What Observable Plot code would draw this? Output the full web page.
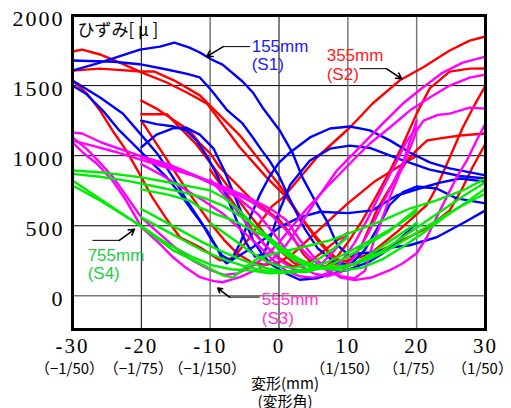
<!DOCTYPE html>
<html><head><meta charset="utf-8">
<script src="https://cdn.jsdelivr.net/npm/d3@7"></script>
<script src="https://cdn.jsdelivr.net/npm/@observablehq/plot@0.6"></script>
<style>body{margin:0;background:#fff}</style>
</head><body><div id="chart"></div>
<script>
// ---- tick values / labels ----
const xTicks = [-30,-20,-10,0,10,20,30];
const xSubLabels = ["（−1/50）","（−1/75）","（−1/150）","","（1/150）","（1/75）","（1/50）"];
const yTicks = [0,500,1000,1500,2000];
const xTitle = "変形(mm)\n(変形角)";

// ---- S1 (155mm) blue ----
const blue1 = [[-30,1607],[-26,1664],[-20.2,1757],[-17.3,1778],[-15.2,1807],[-13,1771],[-11.5,1736],[-9.8,1686],[-8.2,1650],[-5.3,1529],[-3.8,1451],[-2.4,1344],[0.1,1180],[2,1016],[3.4,845],[5.2,681],[6.9,539],[8.5,361],[10.3,283],[11.7,304],[14.2,311],[16.5,347],[19,361],[22.9,418],[26.7,518],[30,610]];
const blue2 = [[-30,1679],[-24,1670],[-19.9,1650],[-16.3,1615],[-13.5,1585],[-11.5,1558],[-9.8,1465],[-7.5,1323],[-5.3,1230],[-3.8,1130],[-2.5,1038],[-1.4,966],[0.1,845],[2,645],[3.7,482],[5.6,340],[8.1,240],[10.3,218],[12.5,330],[14.5,500],[16.1,650],[18,740],[20,780],[22.9,766],[25.8,695],[30,660]];
const blue3 = [[-30,1536],[-26,1415],[-22.7,1301],[-20.2,1159],[-17.7,1016],[-15.4,845],[-13.4,681],[-11.5,540],[-9.8,400],[-8.3,290],[-7,250],[-5.6,380],[-4.2,560],[-2.8,720],[-1.4,850],[0,950],[1.6,1023],[4.5,1130],[7.4,1194],[10.3,1208],[13.2,1180],[16.1,1109],[19,1023],[21.9,952],[24.8,909],[30,859]];
const blue4 = [[-20,1250],[-17.8,1225],[-15.5,1210],[-13.5,1180],[-12,1110],[-10.5,1000],[-9,860],[-7.5,700],[-6,520],[-4.8,380],[-3.5,280],[-2.2,300],[-1,450],[0,600],[1.6,790],[4.5,965],[7.4,1050],[10.3,1072],[13.2,1055],[17.5,975],[21.9,900],[26.3,855],[30,837]];
const blue5 = [[-20,1060],[-17.8,1150],[-15.4,1195],[-13.5,1200],[-11.5,1150],[-9.5,1050],[-8,900],[-6.5,720],[-5,540],[-3.8,400],[-2.5,300],[-1,220],[1,160],[3,115],[5.5,125],[7.8,160],[10.3,190],[13,240],[15,300],[17,380],[18.5,450],[20,520]];
const blue6 = [[-30,1500],[-28,1440],[-25.6,1322],[-23.2,1180],[-20.7,1059],[-18.8,966],[-16.3,845],[-14.4,731],[-12.5,600],[-10.5,470],[-9,340],[-8.2,260],[-7.6,232],[-5.7,290],[-3.8,347],[-1.8,418],[0.1,490],[3,560],[6,600],[10,590],[13.6,610],[17.1,716],[20.4,766],[23.4,808],[26.3,837],[30,815]];

// ---- S2 (355mm) red ----
const red1 = [[-30,1743],[-28.6,1757],[-26,1722],[-23.2,1665],[-19.9,1593],[-16.3,1522],[-13.4,1451],[-10.5,1373],[-8.6,1250],[-5.7,1060],[-1.8,845],[1.1,702],[3.5,539],[5.5,400],[7.5,290],[9.5,210],[11.5,230],[14,330],[17,450],[19.5,560],[21.5,650],[22.9,774],[24.8,987],[26.7,1201],[28.5,1370],[30,1500]];
const red2 = [[-30,1607],[-26,1621],[-20,1600],[-18.1,1600],[-15.2,1536],[-11.5,1430],[-8.6,1287],[-5.7,1145],[-2.8,966],[0.1,788],[3,574],[5.2,432],[7,330],[8.5,260],[10,240],[12,360],[14.2,610],[15.6,730],[17.1,845],[18.6,966],[20,1040],[21.5,1108],[23.4,1123],[26.3,1144],[30,1158]];
const red3 = [[-30,1536],[-27.9,1443],[-26,1322],[-24.2,1180],[-22.2,1038],[-20.3,874],[-18.4,702],[-16.5,560],[-14.4,418],[-11.5,347],[-8.6,254],[-6.7,268],[-4.5,400],[-2.5,540],[-1,640],[0.6,702],[5.5,987],[10.3,1201],[13.6,1372],[17.5,1536],[20.9,1629],[24.8,1750],[27.7,1821],[30,1850]];
const red4 = [[-20,1393],[-17.8,1336],[-15.5,1260],[-13,1180],[-11.5,1087],[-10,1016],[-8.6,916],[-6.7,823],[-4.3,702],[-1.8,610],[0.1,539],[2,420],[3.5,300],[5,220],[6.5,200],[8,250],[10,380],[12,530],[14,700],[16,880],[18,1080],[20,1300],[21.9,1480],[24.8,1600],[27.7,1621],[30,1622]];
const red5 = [[-20,1296],[-16.3,1296],[-14.4,1200],[-12,1080],[-10,950],[-8,820],[-6,690],[-4,560],[-2,440],[0,330],[2,240],[4,190],[6,200],[9,240],[12,280],[15,330],[18,400],[21,470],[23,540],[24.8,610],[26.7,774],[28.1,916],[30,1087]];
const red6 = [[-20,1250],[-18,1100],[-16,950],[-14,800],[-12,660],[-10,520],[-8,400],[-6,300],[-4,240],[-2,220],[0,240],[2,300],[4,390],[6,480],[8,570],[10,660],[12,740],[14,820],[16,880],[18,940],[20,1000]];
const red7 = [[-10,900],[-8,760],[-6,620],[-4,480],[-2,360],[0,270],[2,210],[4,230],[6,300],[8,380],[10,450]];

// ---- S3 (555mm) magenta ----
const mag1 = [[-30,1165],[-28.6,1158],[-25.8,1094],[-20,995],[-16,938],[-11.5,845],[-8.6,788],[-5.7,730],[-2.8,660],[-0.9,610],[1.1,539],[3,400],[5,280],[7,190],[9,130],[11,112],[13.6,133],[16.1,183],[18,233],[20,304],[21.5,420],[23.4,610],[25.8,845],[27.3,966],[28.7,1108],[30,1229]];
const mag2 = [[-30,1108],[-27,1070],[-24,1030],[-20,970],[-16,910],[-12,850],[-8,770],[-4,670],[-1,570],[1,470],[3,350],[5,250],[7,180],[9,140],[11,125],[12.5,180],[13.5,350],[14.9,539],[16.1,703],[17.3,845],[18.3,966],[19.3,1087],[20,1180],[21,1250],[23,1290],[24.8,1300],[27.7,1343],[30,1336]];
const mag3 = [[-30,1094],[-28.5,1023],[-26.5,944],[-24.2,823],[-22.2,680],[-20,490],[-17.5,380],[-15.4,275],[-13.5,200],[-11.5,133],[-9.5,105],[-8.2,97],[-5.7,133],[-2.8,197],[-1,260],[1,360],[3,500],[5.5,690],[8.4,894],[11.7,1059],[15.1,1230],[18,1372],[20.9,1486],[23.8,1593],[26.7,1664],[30,1706]];
const mag4 = [[-30,1130],[-28,1050],[-26,950],[-24,840],[-22,700],[-20,560],[-17.5,450],[-15,340],[-12.5,250],[-10,185],[-8,150],[-6,160],[-4,210],[-2,280],[0,380],[2,500],[4,620],[6.9,773],[10.3,944],[13.2,1087],[16.1,1201],[19,1322],[21.9,1415],[24.8,1500],[27.7,1557],[30,1578]];
const mag5 = [[-20,990],[-16,920],[-12,850],[-9,780],[-6,700],[-3,580],[-1,460],[1,330],[3,220],[5,160],[7,140],[9,170],[11,280],[13,450],[15,650],[16.5,800],[18,950],[19,1100],[20,1250]];
const mag6 = [[-20,940],[-17,860],[-14,770],[-11,680],[-8,580],[-5,450],[-3,360],[-1,260],[1,180],[3,140],[5,130],[7,160],[9,240],[11,380],[13,560],[15,760],[17,950],[18.5,1100],[20,1200]];
const mag7 = [[-10,830],[-8,720],[-6,600],[-4,470],[-2,360],[0,260],[2,190],[4,170],[6,220],[8,320],[10,450]];

// ---- S4 (755mm) green ----
const green1 = [[-30,894],[-25.6,880],[-20,845],[-15.9,809],[-10,752],[-8,700],[-6,620],[-4,520],[-2,420],[0,330],[2,260],[4,220],[6,200],[9,200],[12,250],[15,320],[18,420],[21,520],[24,620],[27,720],[30,810]];
const green2 = [[-30,870],[-26,850],[-22,820],[-18,780],[-14,740],[-11,700],[-8,640],[-5,550],[-2,440],[0,360],[3,260],[6,200],[9,180],[12,200],[15,260],[18,350],[21,450],[24,560],[27,660],[30,766]];
const green3 = [[-30,823],[-25,659],[-19.8,488],[-15.4,325],[-11.5,232],[-8.2,147],[-6.7,130],[-5,200],[-3,270],[0,310],[3.4,347],[7.4,396],[11.3,467],[15.1,539],[19,623],[22.9,681],[26.7,752],[30,837]];
const green4 = [[-30,787],[-26,681],[-20.2,503],[-16.3,374],[-12.5,275],[-9.6,218],[-7,190],[-4,180],[-1.4,161],[2,168],[5.5,197],[10.3,218],[13,260],[16,330],[19,420],[22,510],[25,600],[28,680],[30,730]];
const green5 = [[-20,620],[-17,540],[-14,460],[-11,380],[-8,310],[-5,250],[-2,200],[1,170],[4,170],[7,210],[10,280],[13,370],[16,460],[18,540],[20,620]];
const green6 = [[-20,560],[-17,480],[-14,400],[-11,320],[-8,260],[-5,210],[-2,180],[1,170],[4,190],[7,240],[10,310],[13,390],[16,470],[18,530],[20,600]];
const green7 = [[-10,520],[-8,450],[-6,380],[-4,310],[-2,250],[0,210],[2,200],[4,220],[6,270],[8,340],[10,420]];
const green8 = [[-20,760],[-16,720],[-13,680],[-11.5,630],[-9,580],[-6.7,539],[-4,470],[-1.8,418],[1.1,304],[3,240],[5,200],[8,190],[11,230],[14,320],[17,420],[20,520]];

const blueCurves = [blue1,blue2,blue3,blue4,blue5,blue6];
const redCurves = [red1,red2,red3,red4,red5,red6,red7];
const magCurves = [mag1,mag2,mag3,mag4,mag5,mag6,mag7];
const greenCurves = [green1,green2,green3,green4,green5,green6,green7,green8];

// ---- annotations ----
const annoText  = ["155mm","(S1)","355mm","(S2)","755mm","(S4)","555mm","(S3)"];
const annoX     = [-3.97,-3.97,6.93,6.93,-27.8,-27.8,-2.5,-2.5];
const annoY     = [1778,1650,1714,1579,290,161,-24,-159];
const annoColor = ["#1a1aff","#1a1aff","#ff1a1a","#ff1a1a","#22cc44","#22cc44","#ff33cc","#ff33cc"];
// leader: start (x0,y0) -> bend (x1,y1) -> arrow tip (x2,y2)
const leadX0 = [-4.2, 11.7, -27.1, -2.8];
const leadX1 = [-8.1, 15.6, -23.2, -7.2];
const leadY1 = [1778, 1621, 396, -9];
const leadX2 = [-10.5, 17.8, -21, -8.9];
const leadY2 = [1707, 1550, 475, 55];

const toRows = (curves, g) => curves.flatMap((c, i) => c.map(([x, y]) => ({x, y, id: g + i})));
const annos = annoText.map((t, i) => ({t, x: annoX[i], y: annoY[i], c: annoColor[i]}));
const leads = leadX0.map((x0, i) => ({x0, x1: leadX1[i], y1: leadY1[i], x2: leadX2[i], y2: leadY2[i]}));

const plot = Plot.plot({
  width: 511, height: 408,
  marginLeft: 72, marginRight: 26, marginTop: 15, marginBottom: 79,
  x: {domain: [-30, 30], label: null},
  y: {domain: [-240, 2000], label: null},
  style: {background: "white", overflow: "visible"},
  marks: [
    Plot.ruleY([500, 1000, 1500], {stroke: "#000", strokeWidth: 1}),
    Plot.ruleY([0], {stroke: "#777", strokeWidth: 1.5}),
    Plot.ruleX([-20, 0], {stroke: "#000", strokeWidth: 1}),
    Plot.ruleX([-10, 10, 20], {stroke: "#777", strokeWidth: 1.5}),
    Plot.line(toRows(redCurves, "r"), {x: "x", y: "y", z: "id", stroke: "#ff0000", strokeWidth: 2.4}),
    Plot.line(toRows(blueCurves, "b"), {x: "x", y: "y", z: "id", stroke: "#0000ff", strokeWidth: 2.4}),
    Plot.line(toRows(magCurves, "m"), {x: "x", y: "y", z: "id", stroke: "#ff00ff", strokeWidth: 2.4}),
    Plot.line(toRows(greenCurves, "g"), {x: "x", y: "y", z: "id", stroke: "#00ee00", strokeWidth: 2.4}),
    Plot.frame({stroke: "#000", strokeWidth: 3}),
    Plot.axisY(yTicks, {tickSize: 0, tickPadding: 8, fontSize: 22, fontFamily: "Liberation Serif", tickFormat: d => String(d), dy: 3, fill: "#000"}),
    Plot.axisX(xTicks, {tickSize: 0, tickPadding: 9, fontSize: 21, fontFamily: "Liberation Serif", tickFormat: d => String(d), fill: "#000"}),
    Plot.axisX(xTicks, {tickSize: 0, tickPadding: 34, fontSize: 15, fontFamily: "Noto Sans CJK JP", dx: -3, tickFormat: d => xSubLabels[xTicks.indexOf(d)], fill: "#000"}),
    Plot.text([xTitle], {text: d => d, frameAnchor: "bottom", dx: 6, dy: 63, lineAnchor: "middle", lineHeight: 1.2, fontSize: 15, fontFamily: "Noto Sans CJK JP", fill: "#000"}),
    Plot.text(["ひずみ[ μ ]"], {text: d => d, frameAnchor: "top-left", dx: 5, dy: 8, lineAnchor: "top", textAnchor: "start", fontSize: 17, fontFamily: "Noto Sans CJK JP", fill: "#000"}),
    Plot.text(annos, {x: "x", y: "y", text: "t", fill: "c", textAnchor: "start", fontSize: 17, fontFamily: "Liberation Sans"}),
    Plot.link(leads, {x1: "x0", y1: "y1", x2: "x1", y2: "y1", stroke: "#000", strokeWidth: 1}),
    Plot.arrow(leads, {x1: "x1", y1: "y1", x2: "x2", y2: "y2", stroke: "#000", strokeWidth: 1.6, headLength: 11, bend: 0})
  ]
});

plot.querySelectorAll("g[font-family='Liberation Serif']").forEach(g => g.setAttribute("letter-spacing", "2"));
document.getElementById("chart").appendChild(plot);
</script>
</body></html>
